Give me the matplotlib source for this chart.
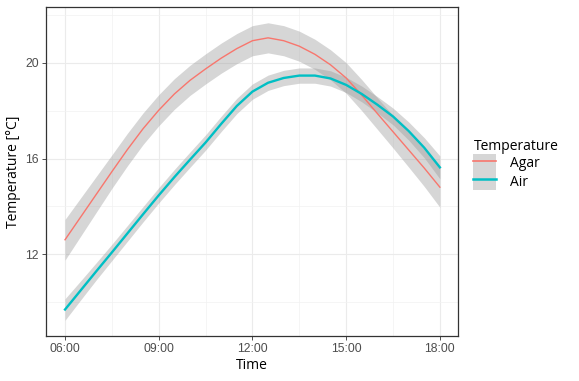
import numpy as np
import matplotlib
matplotlib.use("Agg")
import matplotlib.pyplot as plt
from matplotlib.patches import Patch
from matplotlib.lines import Line2D
from matplotlib.ticker import FixedLocator

# Stunden (dezimal), alle 30 min
hours = [6.0, 6.5, 7.0, 7.5, 8.0, 8.5, 9.0, 9.5, 10.0, 10.5, 11.0, 11.5, 12.0,
         12.5, 13.0, 13.5, 14.0, 14.5, 15.0, 15.5, 16.0, 16.5, 17.0, 17.5, 18.0]

agar = [12.6, 13.55, 14.5, 15.45, 16.38, 17.25, 18.02, 18.7, 19.27, 19.75, 20.2, 20.6, 20.93,
        21.05, 20.93, 20.7, 20.36, 19.92, 19.37, 18.65, 17.88, 17.12, 16.36, 15.6, 14.8]
agar_se = [0.85, 0.8, 0.75, 0.7, 0.68, 0.66, 0.65, 0.64, 0.63, 0.63, 0.63, 0.63, 0.63,
           0.63, 0.63, 0.63, 0.63, 0.63, 0.64, 0.65, 0.66, 0.68, 0.72, 0.77, 0.84]

air = [9.68, 10.48, 11.28, 12.07, 12.87, 13.67, 14.46, 15.22, 15.95, 16.67, 17.45, 18.2, 18.8,
       19.17, 19.37, 19.47, 19.47, 19.35, 19.08, 18.7, 18.25, 17.76, 17.15, 16.45, 15.63]
air_se = [0.45, 0.4, 0.36, 0.34, 0.33, 0.32, 0.32, 0.32, 0.32, 0.32, 0.32, 0.32, 0.32,
          0.32, 0.32, 0.32, 0.32, 0.32, 0.32, 0.33, 0.34, 0.35, 0.38, 0.42, 0.48]

x_ticks = [6, 9, 12, 15, 18]
x_labels = ["06:00", "09:00", "12:00", "15:00", "18:00"]
y_ticks = [12, 16, 20]

RED = "#F8766D"
CYAN = "#00BFC4"
BAND = "#999999"
TITLE_FONT = ["Open Sans", "DejaVu Sans"]
TICK_FONT = ["Liberation Sans", "DejaVu Sans"]

fig = plt.figure(figsize=(5.79, 3.81), dpi=100)
ax = fig.add_axes([0.0794, 0.118, 0.7116, 0.8636])

h = np.array(hours)
for vals, se, col, lw in [(agar, agar_se, RED, 1.0), (air, air_se, CYAN, 1.7)]:
    v = np.array(vals)
    s = np.array(se)
    ax.fill_between(h, v - s, v + s, color=BAND, alpha=0.4, linewidth=0, zorder=2)
    ax.plot(h, v, color=col, lw=lw, zorder=3)

ax.set_xlim(5.39, 18.58)
ax.set_ylim(8.57, 22.34)
ax.set_xticks(x_ticks)
ax.set_xticklabels(x_labels)
ax.set_yticks(y_ticks)
ax.xaxis.set_minor_locator(FixedLocator([7.5, 10.5, 13.5, 16.5]))
ax.yaxis.set_minor_locator(FixedLocator([10, 14, 18, 22]))
ax.grid(which="major", color="#EBEBEB", lw=0.8, zorder=0)
ax.grid(which="minor", color="#F2F2F2", lw=0.5, zorder=0)
ax.set_axisbelow(True)
ax.tick_params(which="major", length=3, width=0.6, color="#333333",
               labelsize=8.8, labelcolor="#4D4D4D", pad=2)
ax.tick_params(which="minor", length=0)
for lab in ax.get_xticklabels() + ax.get_yticklabels():
    lab.set_family(TICK_FONT)
for sp in ax.spines.values():
    sp.set_color("#333333")
    sp.set_linewidth(0.9)

ax.set_xlabel("Time", fontsize=10, family=TITLE_FONT, labelpad=2)
ax.set_ylabel("Temperature [°C]", fontsize=10, family=TITLE_FONT, labelpad=3)

handles = [(Patch(facecolor=BAND, alpha=0.4, edgecolor="none"), Line2D([], [], color=RED, lw=1.2)),
           (Patch(facecolor=BAND, alpha=0.4, edgecolor="none"), Line2D([], [], color=CYAN, lw=1.8))]
leg = fig.legend(handles, ["Agar", "Air"], title="Temperature",
                 loc="center left", bbox_to_anchor=(0.808, 0.568),
                 frameon=False, prop={"family": TITLE_FONT, "size": 10},
                 title_fontproperties={"family": TITLE_FONT, "size": 10},
                 handlelength=1.65, handleheight=1.65, labelspacing=0,
                 handletextpad=1.0, alignment="left", borderaxespad=0)

fig.savefig("out.png", dpi=100)
